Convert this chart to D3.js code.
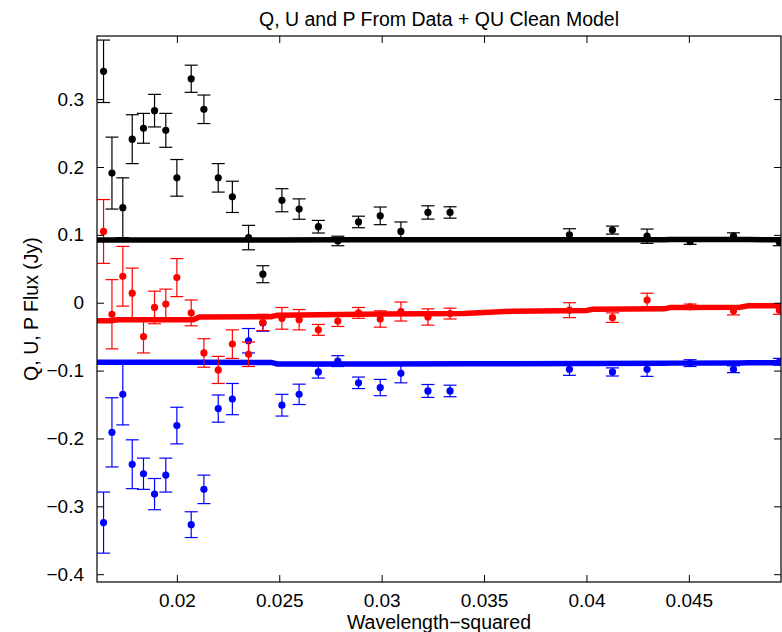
<!DOCTYPE html>
<html>
<head>
<meta charset="utf-8">
<script src="https://cdn.jsdelivr.net/npm/d3@7"></script>
<style>
  body { margin: 0; background: #fff; }
  text { font-family: "Liberation Sans", Arial, Helvetica, sans-serif; }
</style>
</head>
<body>
<svg id="chart"></svg>
<script>
// wavelength-squared of each channel
const lambdaSq = [0.01642, 0.01683, 0.01736, 0.01782, 0.01837, 0.01891, 0.01946, 0.02000,
  0.02070, 0.02132, 0.02202, 0.02271, 0.02350, 0.02420, 0.02513, 0.02597, 0.02691,
  0.02786, 0.02887, 0.02993, 0.03094, 0.03226, 0.03334, 0.03917, 0.04127, 0.04296,
  0.04506, 0.04718, 0.04942];

// P (black)
const pFlux = [0.341, 0.191, 0.140, 0.241, 0.257, 0.283, 0.254, 0.184, 0.330, 0.285,
  0.184, 0.156, 0.096, 0.042, 0.151, 0.138, 0.112, 0.091, 0.119, 0.128, 0.105, 0.133,
  0.133, 0.100, 0.107, 0.098, 0.090, 0.098, 0.089];
const pErr = [0.046, 0.053, 0.044, 0.036, 0.022, 0.024, 0.025, 0.027, 0.020, 0.021,
  0.021, 0.023, 0.018, 0.0125, 0.017, 0.015, 0.0093, 0.007, 0.0085, 0.013, 0.014,
  0.0098, 0.0084, 0.009, 0.0059, 0.0105, 0.004, 0.005, 0.005];

// U (red)
const uFlux = [0.105, -0.017, 0.039, 0.014, -0.050, -0.007, -0.002, 0.037, -0.015,
  -0.074, -0.099, -0.061, -0.076, -0.029, -0.023, -0.025, -0.040, -0.027, -0.015,
  -0.024, -0.013, -0.021, -0.016, -0.011, -0.022, 0.004, -0.006, -0.012, -0.011];
const uErr = [0.047, 0.051, 0.044, 0.037, 0.024, 0.024, 0.022, 0.028, 0.019, 0.021,
  0.020, 0.021, 0.018, 0.012, 0.016, 0.015, 0.008, 0.008, 0.008, 0.012, 0.014, 0.012,
  0.008, 0.011, 0.007, 0.010, 0.004, 0.006, 0.006];

// Q (blue)
const qFlux = [-0.324, -0.191, -0.135, -0.238, -0.252, -0.282, -0.254, -0.181, -0.327,
  -0.275, -0.156, -0.142, -0.056, -0.030, -0.151, -0.135, -0.102, -0.086, -0.118,
  -0.125, -0.104, -0.130, -0.130, -0.098, -0.102, -0.098, -0.089, -0.098, -0.087];
const qErr = [0.045, 0.051, 0.045, 0.036, 0.023, 0.023, 0.025, 0.027, 0.019, 0.021,
  0.020, 0.023, 0.018, 0.012, 0.016, 0.015, 0.009, 0.008, 0.0085, 0.012, 0.014,
  0.0095, 0.0085, 0.009, 0.006, 0.0105, 0.005, 0.005, 0.005];

// QU clean model, sampled along the axis
const modelX = [0.0161, 0.0168, 0.0171, 0.0208, 0.0211, 0.0246, 0.0249, 0.0280, 0.0300,
  0.0340, 0.0364, 0.0400, 0.0403, 0.0438, 0.0441, 0.0475, 0.0479, 0.0495];
const modelP = [0.0924, 0.0924, 0.0924, 0.0924, 0.0924, 0.0925, 0.0926, 0.0927, 0.0927,
  0.0928, 0.0928, 0.0929, 0.0929, 0.0929, 0.0930, 0.0930, 0.0930, 0.0928];
const modelU = [-0.0265, -0.0265, -0.0250, -0.0250, -0.0210, -0.0205, -0.0185, -0.0175,
  -0.0167, -0.0160, -0.0125, -0.0115, -0.0098, -0.0090, -0.0070, -0.0065, -0.0045, -0.0045];
const modelQ = [-0.0878, -0.0878, -0.0878, -0.0878, -0.0878, -0.0880, -0.0903, -0.0903,
  -0.0902, -0.0900, -0.0898, -0.0895, -0.0894, -0.0892, -0.0890, -0.0888, -0.0886, -0.0885];

const xTicks = [0.02, 0.025, 0.03, 0.035, 0.04, 0.045];
const yTicks = [-0.4, -0.3, -0.2, -0.1, 0, 0.1, 0.2, 0.3];

const width = 782, height = 632;
const margin = { top: 36, right: 1, bottom: 50, left: 97 };
const innerW = width - margin.left - margin.right;
const innerH = height - margin.top - margin.bottom;

const svg = d3.select("#chart")
  .attr("width", width)
  .attr("height", height);

const x = d3.scaleLinear().domain([0.0161, 0.0495]).range([0, innerW]);
const y = d3.scaleLinear().domain([-0.4115, 0.393]).range([innerH, 0]);

const g = svg.append("g")
  .attr("transform", `translate(${margin.left},${margin.top})`);

g.append("clipPath")
  .attr("id", "plot-clip")
  .append("rect")
  .attr("width", innerW)
  .attr("height", innerH);

const plot = g.append("g").attr("clip-path", "url(#plot-clip)");

// draw one series: model line, error bars, points
function drawSeries(flux, err, model, color) {
  const line = d3.line()
    .x((d, i) => x(modelX[i]))
    .y(d => y(d));

  plot.append("path")
    .datum(model)
    .attr("fill", "none")
    .attr("stroke", color)
    .attr("stroke-width", 5.5)
    .attr("d", line);

  const rows = lambdaSq.map((l, i) => ({ l: l, v: flux[i], e: err[i] }));
  const bars = plot.append("g")
    .attr("stroke", color)
    .attr("stroke-width", 1.2)
    .selectAll("g")
    .data(rows)
    .join("g");

  bars.append("line")
    .attr("x1", d => x(d.l)).attr("x2", d => x(d.l))
    .attr("y1", d => y(d.v - d.e)).attr("y2", d => y(d.v + d.e));
  // caps
  [-1, 1].forEach(s => {
    bars.append("line")
      .attr("x1", d => x(d.l) - 6.5).attr("x2", d => x(d.l) + 6.5)
      .attr("y1", d => y(d.v + s * d.e)).attr("y2", d => y(d.v + s * d.e));
  });

  plot.append("g")
    .selectAll("circle")
    .data(rows)
    .join("circle")
    .attr("cx", d => x(d.l))
    .attr("cy", d => y(d.v))
    .attr("r", 3.6)
    .attr("fill", color);
}

drawSeries(qFlux, qErr, modelQ, "#0000ff");
drawSeries(uFlux, uErr, modelU, "#ff0000");
drawSeries(pFlux, pErr, modelP, "#000000");

// axes, MATLAB style: ticks pointing inward on all four sides
const fmtY = d => d === 0 ? "0" : d3.format(".1f")(d);
const fmtX = d => d3.format("~g")(d);

function styleAxis(sel) {
  sel.select(".domain").remove();
  sel.selectAll(".tick line").attr("stroke", "#000");
  sel.selectAll(".tick text")
    .attr("fill", "#000")
    .attr("font-size", "19px");
}

g.append("g")
  .attr("transform", `translate(0,${innerH})`)
  .call(d3.axisBottom(x).tickValues(xTicks).tickFormat(fmtX).tickSizeInner(-7).tickPadding(12))
  .call(styleAxis);

g.append("g")
  .call(d3.axisTop(x).tickValues(xTicks).tickFormat("").tickSizeInner(-7))
  .call(styleAxis);

g.append("g")
  .call(d3.axisLeft(y).tickValues(yTicks).tickFormat(fmtY).tickSizeInner(-7).tickPadding(13))
  .call(styleAxis);

g.append("g")
  .attr("transform", `translate(${innerW},0)`)
  .call(d3.axisRight(y).tickValues(yTicks).tickFormat("").tickSizeInner(-7))
  .call(styleAxis);

// box
g.append("rect")
  .attr("width", innerW)
  .attr("height", innerH)
  .attr("fill", "none")
  .attr("stroke", "#000")
  .attr("stroke-width", 1.2);

// title and labels
svg.append("text")
  .attr("x", margin.left + innerW / 2)
  .attr("y", 26)
  .attr("text-anchor", "middle")
  .attr("font-size", "19.5px")
  .text("Q, U and P From Data + QU Clean Model");

svg.append("text")
  .attr("x", margin.left + innerW / 2)
  .attr("y", 629)
  .attr("text-anchor", "middle")
  .attr("font-size", "19.5px")
  .text("Wavelength\u2212squared");

svg.append("text")
  .attr("transform", `translate(38,${margin.top + innerH / 2}) rotate(-90)`)
  .attr("text-anchor", "middle")
  .attr("font-size", "19.5px")
  .text("Q, U, P Flux (Jy)");
</script>
</body>
</html>
